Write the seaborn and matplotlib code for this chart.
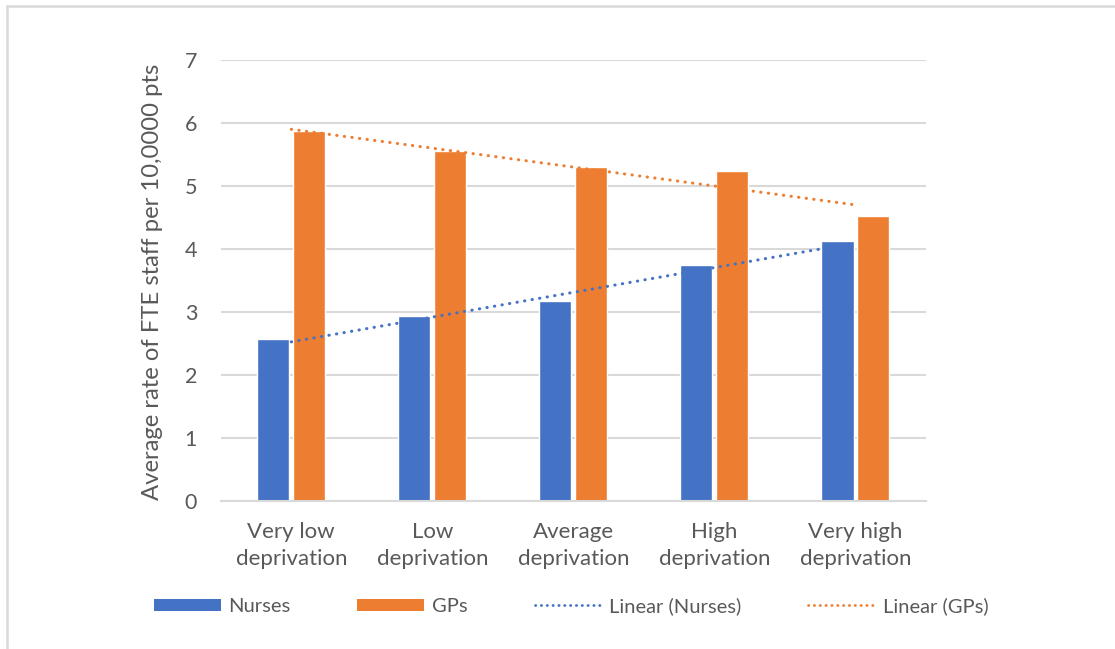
import numpy as np
import pandas as pd
import seaborn as sns
import matplotlib.pyplot as plt
from matplotlib.patches import Patch
from matplotlib.lines import Line2D

# Deprivation groups and average FTE staff rates per 10,000 patients
categories = ["Very low\ndeprivation", "Low\ndeprivation", "Average\ndeprivation",
              "High\ndeprivation", "Very high\ndeprivation"]
nurses = [2.57, 2.94, 3.17, 3.75, 4.13]
gps = [5.87, 5.56, 5.30, 5.24, 4.53]
series_names = ["Nurses", "GPs"]
y_ticks = [0, 1, 2, 3, 4, 5, 6, 7]
y_label = "Average rate of FTE staff per 10,0000 pts"

BLUE = "#4472C4"
ORANGE = "#ED7D31"
TEXT = "#595959"
GRID = "#D9D9D9"

sns.set_theme(style="white")
plt.rcParams["font.family"] = ["Lato", "DejaVu Sans"]

df = pd.DataFrame({
    "category": categories * 2,
    "value": nurses + gps,
    "series": [series_names[0]] * len(categories) + [series_names[1]] * len(categories),
})

fig = plt.figure(figsize=(11.15, 6.49), dpi=100)
ax = fig.add_axes([0.198, 0.228, 0.6325, 0.6796])

sns.barplot(data=df, x="category", y="value", hue="series", order=categories,
            hue_order=series_names, palette=[BLUE, ORANGE], saturation=1,
            width=0.51, gap=0.11, legend=False, ax=ax, zorder=2)

# Linear trendlines fitted over the category positions
xs = np.arange(len(categories))
for vals, color in [(nurses, BLUE), (gps, ORANGE)]:
    slope, intercept = np.polyfit(xs, vals, 1)
    ax.plot([xs[0], xs[-1]], [intercept, intercept + slope * xs[-1]], color=color,
            lw=2.2, linestyle=(0, (0.1, 2.4)), dash_capstyle="round", zorder=3)

ax.set_ylim(0, 7)
ax.set_xlim(-0.5, len(categories) - 0.5)
ax.set_yticks(y_ticks)
ax.yaxis.grid(True, color=GRID, lw=1.5, zorder=0)
ax.set_axisbelow(True)
for side in ["top", "right", "left"]:
    ax.spines[side].set_visible(False)
ax.spines["bottom"].set_color(GRID)
ax.spines["bottom"].set_linewidth(1.5)
ax.tick_params(axis="both", length=0, colors=TEXT)
ax.tick_params(axis="y", pad=17, labelsize=15.5)
ax.tick_params(axis="x", pad=15, labelsize=16)
for lbl in ax.get_xticklabels():
    lbl.set_linespacing(1.45)
ax.set_xlabel("")
ax.set_ylabel(y_label, fontsize=17.2, color=TEXT)
ax.yaxis.set_label_coords(-0.082, 0.497)

handles = [
    Patch(facecolor=BLUE, edgecolor="none"),
    Patch(facecolor=ORANGE, edgecolor="none"),
    Line2D([], [], color=BLUE, lw=2.0, linestyle=(0, (0.1, 2.0)), dash_capstyle="round"),
    Line2D([], [], color=ORANGE, lw=2.0, linestyle=(0, (0.1, 2.0)), dash_capstyle="round"),
]
labels = ["Nurses", "GPs", "Linear (Nurses)", "Linear (GPs)"]
leg = fig.legend(handles, labels, loc="center", bbox_to_anchor=(0.512, 1 - 606 / 649),
                 ncol=4, frameon=False, fontsize=14.5, handlelength=3.33,
                 handleheight=0.55, handletextpad=0.35, columnspacing=3.35)
for t in leg.get_texts():
    t.set_color(TEXT)

# Light chart-area border on the top and left edges
fig.add_artist(Line2D([0.0063, 1.0], [0.9908, 0.9908], transform=fig.transFigure,
                      color=GRID, lw=1.8))
fig.add_artist(Line2D([0.0063, 0.0063], [0.0, 0.9908], transform=fig.transFigure,
                      color=GRID, lw=1.8))

fig.savefig("out.png", dpi=100, facecolor="white")
